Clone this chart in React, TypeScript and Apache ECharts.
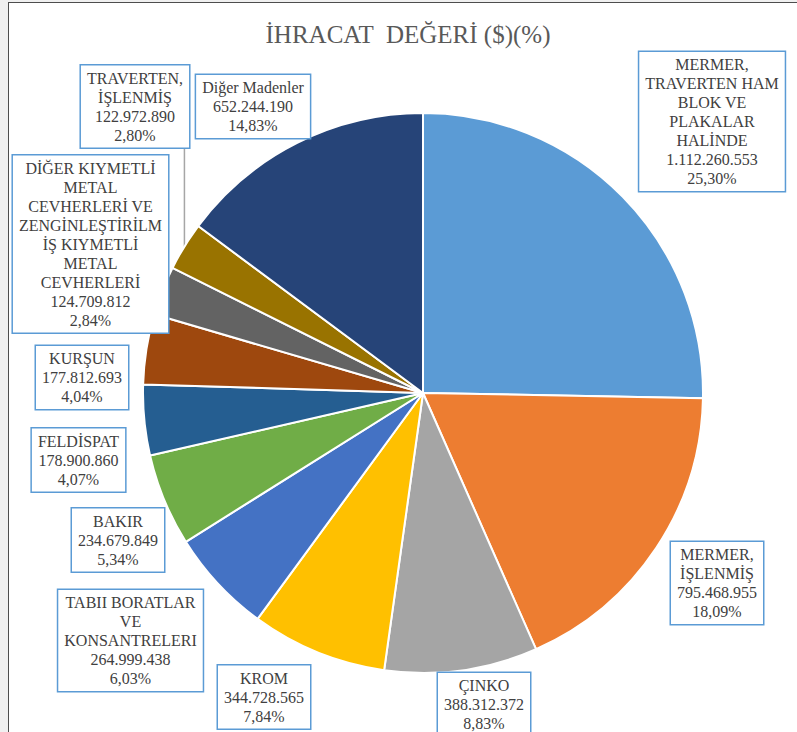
import React, { useEffect, useRef } from "react";
import * as echarts from "echarts";

const categories = [
  "MERMER, TRAVERTEN HAM BLOK VE PLAKALAR HALİNDE",
  "MERMER, İŞLENMİŞ",
  "ÇINKO",
  "KROM",
  "TABII BORATLAR VE KONSANTRELERI",
  "BAKIR",
  "FELDİSPAT",
  "KURŞUN",
  "DİĞER KIYMETLİ METAL CEVHERLERİ VE ZENGİNLEŞTİRİLMİŞ KIYMETLİ METAL CEVHERLERİ",
  "TRAVERTEN, İŞLENMİŞ",
  "Diğer Madenler",
];

const values = [
  1112260553, 795468955, 388312372, 344728565, 264999438, 234679849,
  178900860, 177812693, 124709812, 122972890, 652244190,
];

// wrapped label text as shown in the reference
const labelTexts = [
  "MERMER,\nTRAVERTEN HAM\nBLOK VE\nPLAKALAR\nHALİNDE",
  "MERMER,\nİŞLENMİŞ",
  "ÇINKO",
  "KROM",
  "TABII BORATLAR\nVE\nKONSANTRELERI",
  "BAKIR",
  "FELDİSPAT",
  "KURŞUN",
  "DİĞER KIYMETLİ\nMETAL\nCEVHERLERİ VE\nZENGİNLEŞTİRİLM\nİŞ KIYMETLİ\nMETAL\nCEVHERLERİ",
  "TRAVERTEN,\nİŞLENMİŞ",
  "Diğer Madenler",
];

const colors = [
  "#5B9BD5", "#ED7D31", "#A5A5A5", "#FFC000", "#4472C4", "#70AD47",
  "#255E91", "#9E480E", "#636363", "#997300", "#264478",
];

// label box centres (layout)
const labelCenters: [number, number][] = [
  [712, 121.5],
  [717, 583],
  [484, 704.5],
  [264, 697],
  [130.5, 640.5],
  [118, 540],
  [78.5, 460],
  [82, 377.5],
  [90.5, 244],
  [135, 106.5],
  [253, 106.5],
];

const SERIF = "Liberation Serif";

const fmtTR = (n: number) =>
  String(n).replace(/\B(?=(\d{3})+(?!\d))/g, ".");

export default function App() {
  const ref = useRef<HTMLDivElement>(null);
  useEffect(() => {
    document.body.style.margin = "0";
    const chart = echarts.init(ref.current!, null, { renderer: "svg" });
    const total = values.reduce((a, b) => a + b, 0);
    const data = categories.map((name, i) => ({
      name,
      value: values[i],
      itemStyle: { color: colors[i] },
      labelLine: { show: i === 9 },
    }));
    chart.setOption({
      animation: false,
      graphic: [
        {
          type: "text",
          x: 408,
          y: 34,
          style: {
            text: "İHRACAT  DEĞERİ ($)(%)",
            fill: "#595959",
            fontFamily: SERIF,
            fontSize: 25,
            textAlign: "center",
            textVerticalAlign: "middle",
          },
        },
      ],
      series: [
        {
          type: "pie",
          center: [423, 393],
          radius: 280,
          startAngle: 90,
          clockwise: true,
          avoidLabelOverlap: false,
          itemStyle: { borderColor: "#ffffff", borderWidth: 2 },
          emphasis: { disabled: true },
          label: {
            show: true,
            position: "outside",
            color: "#404040",
            fontFamily: SERIF,
            fontSize: 16,
            lineHeight: 19,
            align: "center",
            backgroundColor: "#ffffff",
            borderColor: "#5B9BD5",
            borderWidth: 1.5,
            padding: [3, 6, 3, 6],
            formatter: (p: any) =>
              labelTexts[p.dataIndex] +
              "\n" +
              fmtTR(p.value) +
              "\n" +
              ((p.value / total) * 100).toFixed(2).replace(".", ",") +
              "%",
          },
          labelLine: {
            show: false,
            length: 5,
            length2: 0,
            smooth: false,
            lineStyle: { color: "#A6A6A6", width: 1.5 },
          },
          labelLayout: (params: any) => {
            const c = labelCenters[params.dataIndex];
            const out: any = {
              x: c[0],
              y: c[1],
              align: "center",
              verticalAlign: "middle",
              hideOverlap: false,
            };
            const pts = params.labelLinePoints;
            if (pts && pts.length) {
              const a = pts[0];
              const bottom = c[1] + params.labelRect.height / 2;
              out.labelLinePoints = [
                [a[0], a[1]],
                [a[0], bottom],
                [a[0], bottom],
              ];
            }
            return out;
          },
          data,
        },
      ],
    });
    return () => chart.dispose();
  }, []);
  return (
    <div
      style={{
        position: "absolute",
        left: 0,
        top: 0,
        width: 797,
        height: 732,
        overflow: "hidden",
        background: "#f0f0f0",
      }}
    >
      <div
        style={{
          position: "absolute",
          left: 8,
          top: 2,
          width: 820,
          height: 760,
          background: "#ffffff",
          borderLeft: "1px solid #4d4d4d",
          borderTop: "1px solid #4d4d4d",
        }}
      />
      <div
        ref={ref}
        style={{ position: "absolute", left: 0, top: 0, width: 797, height: 732 }}
      />
    </div>
  );
}
